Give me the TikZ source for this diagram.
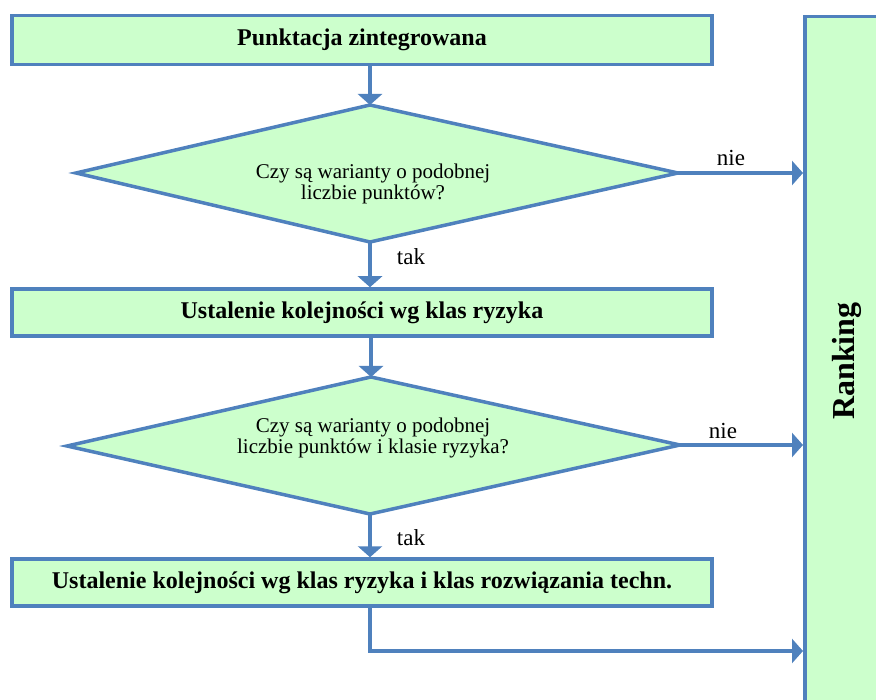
\documentclass[tikz,border=0pt]{standalone}
\usepackage{fontspec}
\setmainfont{Liberation Serif}
\usetikzlibrary{arrows.meta}
\definecolor{lineblue}{HTML}{4F81BD}
\definecolor{boxfill}{HTML}{CCFFCC}
\begin{document}
\begin{tikzpicture}[x=1pt,y=-1pt,
  flow/.style={draw=lineblue, line width=3.5pt, -{Triangle[width=24pt,length=11pt]}},
  procbox/.style={draw=lineblue, fill=boxfill, line width=3.5pt, inner sep=0pt,
    font=\bfseries\fontsize{24}{26}\selectfont},
  decision/.style={draw=lineblue, fill=boxfill, line width=3.5pt, line join=miter},
  qtext/.style={align=center, inner sep=0pt, font=\fontsize{21}{21}\selectfont},
  lbl/.style={inner sep=0pt, font=\fontsize{23}{23}\selectfont}]
\useasboundingbox (0,0) rectangle (876,700);
\clip (0,0) rectangle (876,700);

% Ranking column
\node[draw=lineblue, fill=boxfill, line width=3.5pt, minimum width=110pt,
      minimum height=720pt, anchor=north west, inner sep=0pt] (rank) at (803,15) {};
\node[rotate=90, inner sep=0pt, font=\bfseries\fontsize{32}{32}\selectfont] (ranklabel) at (847,361) {Ranking};

% process boxes
\node[procbox, minimum width=700pt, minimum height=49pt] (box1) at (362,40) {Punktacja zintegrowana};
\node[procbox, minimum width=700pt, minimum height=47pt] (box2) at (362,312.5) {Ustalenie kolejności wg klas ryzyka};
\node[procbox, minimum width=700pt, minimum height=47pt] (box3) at (362,582.5) {Ustalenie kolejności wg klas ryzyka i klas rozwiązania techn.};

% decision 1
\coordinate (d1t) at (370,105);
\coordinate (d1r) at (678,173);
\coordinate (d1b) at (370,242);
\coordinate (d1l) at (76,173);
\draw[decision] (d1t) -- (d1r) -- (d1b) -- (d1l) -- cycle;
\node[qtext] (q1) at (373,184) {Czy są warianty o podobnej\\liczbie punktów?};

% decision 2
\coordinate (d2t) at (371,377);
\coordinate (d2r) at (680,445);
\coordinate (d2b) at (370,514);
\coordinate (d2l) at (67,446);
\draw[decision] (d2t) -- (d2r) -- (d2b) -- (d2l) -- cycle;
\node[qtext] (q2) at (373,438) {Czy są warianty o podobnej\\liczbie punktów i klasie ryzyka?};

% vertical flow
\draw[flow] (box1.south -| d1t) -- (d1t);
\draw[flow] (d1b) -- (box2.north -| d1b);
\draw[flow] (box2.south -| d2t) -- (d2t);
\draw[flow] (d2b) -- (box3.north -| d2b);

% to ranking
\draw[flow] (d1r) -- (d1r -| rank.west);
\draw[flow] (d2r) -- (d2r -| rank.west);
\coordinate (endc) at (803,651);
\draw[flow] (box3.south -| d2b) |- (endc);

% labels
\node[lbl, anchor=base] (nie1) at (731,166) {nie};
\node[lbl, anchor=base] (nie2) at (723,439) {nie};
\node[lbl, anchor=base] (tak1) at (411,265) {tak};
\node[lbl, anchor=base] (tak2) at (411,545) {tak};
\end{tikzpicture}
\end{document}
